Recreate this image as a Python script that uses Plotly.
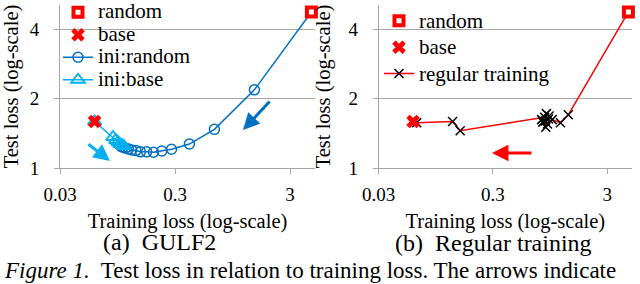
import math
import plotly.graph_objects as go

# ---------------- data ----------------
random_pt_x = [4.6]
random_pt_y = [4.74]
base_pt_x = [0.06]
base_pt_y = [1.59]

# GULF2, ini:random (starts at random init)
ini_random_x = [4.6, 1.47, 0.66, 0.40, 0.28, 0.23, 0.195, 0.17, 0.15, 0.137, 0.126, 0.118, 0.111, 0.106, 0.102]
ini_random_y = [4.74, 2.18, 1.47, 1.27, 1.205, 1.185, 1.17, 1.175, 1.175, 1.19, 1.196, 1.21, 1.22, 1.23, 1.24]

# GULF2, ini:base (starts at base model)
ini_base_x = [0.06, 0.0867, 0.0917, 0.0957, 0.0997, 0.104, 0.108]
ini_base_y = [1.59, 1.362, 1.322, 1.296, 1.27, 1.258, 1.245]

# Regular training (starts at random init)
reg_x = [4.6, 1.37, 1.17, 0.99, 0.93, 0.88, 0.86, 0.90, 0.82, 0.87, 0.80, 0.92, 0.85, 0.155, 0.133, 0.0645]
reg_y = [4.74, 1.70, 1.57, 1.62, 1.68, 1.72, 1.60, 1.55, 1.58, 1.50, 1.62, 1.63, 1.66, 1.45, 1.59, 1.57]

x_tickvals = [0.03, 0.3, 3]
x_ticktext = ["0.03", "0.3", "3"]
y_tickvals = [1, 2, 4]
y_ticktext = ["1", "2", "4"]

RED = "#FF0000"
DBLUE = "#0070C0"
LBLUE = "#00B0F0"
GRID = "#a6a6a6"
FONT = "Liberation Serif"

def lg(name, px):
    return '<span style="font-family:Liberation Serif,serif;font-size:%dpx">%s</span>' % (px, name)

fig = go.Figure()

# ---- left panel ----
fig.add_trace(go.Scatter(x=ini_random_x, y=ini_random_y, mode="lines+markers", name=lg("ini:random", 21),
                         line=dict(color=DBLUE, width=1.5),
                         marker=dict(symbol="circle-open", size=10, color=DBLUE, line=dict(width=1.5)),
                         xaxis="x", yaxis="y", legend="legend", legendrank=3))
fig.add_trace(go.Scatter(x=ini_base_x, y=ini_base_y, mode="lines+markers", name=lg("ini:base", 21),
                         line=dict(color=LBLUE, width=1.5),
                         marker=dict(symbol="triangle-up-open", size=12, color=LBLUE, line=dict(width=1.8)),
                         xaxis="x", yaxis="y", legend="legend", legendrank=4))
fig.add_trace(go.Scatter(x=random_pt_x, y=random_pt_y, mode="markers", name=lg("random", 21),
                         marker=dict(symbol="square", size=9, color="white", line=dict(color=RED, width=4)),
                         xaxis="x", yaxis="y", legend="legend", legendrank=1, cliponaxis=False))
fig.add_trace(go.Scatter(x=base_pt_x, y=base_pt_y, mode="markers", name=lg("base", 21),
                         marker=dict(symbol="x", size=12, color=RED, line=dict(width=0)),
                         xaxis="x", yaxis="y", legend="legend", legendrank=2))

# ---- right panel ----
fig.add_trace(go.Scatter(x=reg_x, y=reg_y, mode="lines+markers", name=lg("regular training", 21),
                         line=dict(color=RED, width=1.5),
                         marker=dict(symbol="x-thin", size=9, color="black", line=dict(color="black", width=1.5)),
                         xaxis="x2", yaxis="y2", legend="legend2", legendrank=3))
fig.add_trace(go.Scatter(x=random_pt_x, y=random_pt_y, mode="markers", name=lg("random", 21),
                         marker=dict(symbol="square", size=9, color="white", line=dict(color=RED, width=4)),
                         xaxis="x2", yaxis="y2", legend="legend2", legendrank=1, cliponaxis=False))
fig.add_trace(go.Scatter(x=base_pt_x, y=base_pt_y, mode="markers", name=lg("base", 21),
                         marker=dict(symbol="x", size=12, color=RED, line=dict(width=0)),
                         xaxis="x2", yaxis="y2", legend="legend2", legendrank=2))

xr = [math.log10(0.03), math.log10(0.03) + 2.217]
yr = [0, 0.706]

def xaxis(domain, anchor):
    return dict(type="log", domain=domain, anchor=anchor, range=xr, automargin=False,
                tickvals=x_tickvals, ticktext=x_ticktext, showgrid=False,
                showline=True, linecolor=GRID, linewidth=1, ticks="outside", ticklen=5,
                tickcolor=GRID, zeroline=False, ticklabelstandoff=4,
                tickfont=dict(family=FONT, size=19, color="black"),
                title=dict(text="Training loss (log-scale)", font=dict(family=FONT, size=20.5, color="black"),
                           standoff=9))

def yaxis(domain, anchor):
    return dict(type="log", domain=domain, anchor=anchor, range=yr, automargin=False,
                tickvals=y_tickvals, ticktext=y_ticktext, showgrid=True, gridcolor=GRID, gridwidth=1,
                showline=True, linecolor=GRID, linewidth=1, ticks="outside", ticklen=5,
                tickcolor=GRID, zeroline=False, ticklabelstandoff=11,
                tickfont=dict(family=FONT, size=19, color="black"),
                title=dict(text="Test loss (log-scale)", font=dict(family=FONT, size=20.5, color="black"),
                           standoff=12))

ydom = [1 - 168 / 284, 1 - 5 / 284]
fig.update_layout(
    width=640, height=284,
    margin=dict(l=0, r=0, t=0, b=0, autoexpand=False),
    paper_bgcolor="white", plot_bgcolor="white",
    font=dict(family=FONT, color="black"),
    xaxis=xaxis([60 / 640, 315 / 640], "y"),
    yaxis=yaxis(ydom, "x"),
    xaxis2=xaxis([378.7 / 640, 632 / 640], "y2"),
    yaxis2=yaxis(ydom, "x2"),
    legend=dict(x=58 / 640, y=1.014, xanchor="left", yanchor="top", bgcolor="rgba(0,0,0,0)",
                font=dict(family=FONT, size=15, color="black"), tracegroupgap=0),
    legend2=dict(x=379 / 640, y=0.991, xanchor="left", yanchor="top", bgcolor="rgba(0,0,0,0)",
                 font=dict(family=FONT, size=18, color="black"), tracegroupgap=0),
    showlegend=True,
)

anns = [
    # arrows
    dict(x=math.log10(0.0816), y=math.log10(1.072), xref="x", yref="y", ax=-23, ay=-18,
         arrowcolor=LBLUE),
    dict(x=math.log10(1.17), y=math.log10(1.46), xref="x", yref="y", ax=28, ay=-30,
         arrowcolor=DBLUE),
    dict(x=math.log10(0.294), y=math.log10(1.16), xref="x2", yref="y2", ax=41, ay=0,
         arrowcolor=RED),
]
for a in anns:
    a.update(text="", showarrow=True, arrowhead=2, arrowsize=1.1, arrowwidth=3, standoff=0)

anns += [
    dict(text="(a)&nbsp; GULF2", x=159 / 640, y=1 - 242 / 284, xref="paper", yref="paper",
         showarrow=False, xanchor="center", yanchor="middle", font=dict(family=FONT, size=24, color="black")),
    dict(text="(b)&nbsp; Regular training", x=493 / 640, y=1 - 243 / 284, xref="paper", yref="paper",
         showarrow=False, xanchor="center", yanchor="middle", font=dict(family=FONT, size=24, color="black")),
    dict(text="<i>Figure 1.</i>&nbsp; Test loss in relation to training loss. The arrows indicate",
         x=2 / 640, y=1 - 270 / 284, xref="paper", yref="paper",
         showarrow=False, xanchor="left", yanchor="middle", font=dict(family=FONT, size=23, color="black")),
]
fig.update_layout(annotations=anns)

# remove the browser's default 8px page margin so the figure fills the window exactly
fig.write_html("out.html", config={"displayModeBar": False},
               post_script="document.body.style.margin='0';")
